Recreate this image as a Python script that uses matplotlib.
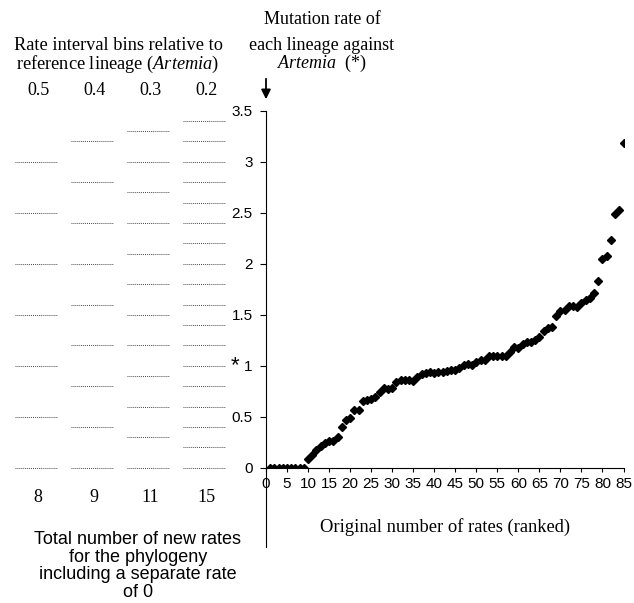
import numpy as np
import matplotlib.pyplot as plt

plt.rcParams['font.family'] = 'Liberation Serif'
plt.rcParams['mathtext.fontset'] = 'custom'
plt.rcParams['mathtext.rm'] = 'Liberation Serif'
plt.rcParams['mathtext.it'] = 'Liberation Serif:italic'

# ranked mutation rates of each lineage against Artemia
rank = list(range(1, 86))
rate = [0, 0, 0, 0, 0, 0, 0, 0, 0,
        0.09, 0.12, 0.17, 0.21, 0.24, 0.26, 0.26, 0.30, 0.40, 0.47,
        0.49, 0.57, 0.57, 0.65, 0.66, 0.67, 0.69, 0.745, 0.78, 0.77,
        0.78, 0.84, 0.86, 0.86, 0.86, 0.85, 0.89, 0.915, 0.93, 0.94,
        0.93, 0.94, 0.94, 0.95, 0.96, 0.96, 0.98, 1.01, 1.02, 1.01,
        1.04, 1.055, 1.055, 1.095, 1.095, 1.095, 1.095, 1.10, 1.13, 1.18,
        1.17, 1.21, 1.235, 1.235, 1.25, 1.28, 1.34, 1.37, 1.375, 1.49,
        1.54, 1.55, 1.585, 1.585, 1.58, 1.61, 1.64, 1.66, 1.71, 1.83,
        2.05, 2.08, 2.23, 2.49, 2.53, 3.18]

# rate interval bins
bin_widths = ['0.5', '0.4', '0.3', '0.2']
new_rates = ['8', '9', '11', '15']
bins_05 = [0, 0.5, 1.0, 1.5, 2.0, 2.5, 3.0]
bins_04 = [0, 0.4, 0.8, 1.2, 1.6, 2.0, 2.4, 2.8, 3.2]
bins_03 = [0, 0.3, 0.6, 0.9, 1.2, 1.5, 1.8, 2.1, 2.4, 2.7, 3.0, 3.3]
bins_02 = [0, 0.2, 0.4, 0.6, 0.8, 1.0, 1.2, 1.4, 1.6, 1.8, 2.0, 2.2,
           2.4, 2.6, 2.8, 3.0, 3.2, 3.4]
bin_edges = [bins_05, bins_04, bins_03, bins_02]

W, H = 634, 603
fig = plt.figure(figsize=(W / 100, H / 100), dpi=100)

# main scatter axes
ax = fig.add_axes([266 / W, 1 - 467.7 / H, 357.5 / W, 357 / H])
ax.plot(rank, rate, 'D', color='black', ms=3.8, mec='black')
ax.set_xlim(0, 85)
ax.set_ylim(0, 3.5)
ax.set_xticks(np.arange(0, 86, 5))
ax.set_yticks([0, 0.5, 1, 1.5, 2, 2.5, 3, 3.5])
ax.set_yticklabels(['0', '0.5', '1', '1.5', '2', '2.5', '3', '3.5'])
for s in ['top', 'right']:
    ax.spines[s].set_visible(False)
ax.spines['left'].set_bounds(-0.78, 3.5)
ax.tick_params(axis='both', direction='out', labelsize=11, width=0.8)
ax.tick_params(axis='y', length=4.5, pad=5)
ax.tick_params(axis='x', length=3, pad=4)
for lab in ax.get_xticklabels() + ax.get_yticklabels():
    lab.set_family('Liberation Sans')
ax.annotate('*', xy=(0, 1), xycoords=('axes fraction', 'data'),
            xytext=(-22.5, 0), textcoords='offset points',
            ha='center', va='center', fontsize=16, family='Liberation Sans')
ax.set_xlabel('Original number of rates (ranked)', fontsize=13.3, labelpad=19)

# bins panel
axb = fig.add_axes([0, 1 - 467.7 / H, 250 / W, 357 / H])
axb.set_xlim(-36 / 56, (250 - 36) / 56)
axb.set_ylim(0, 3.5)
axb.axis('off')
for i, edges in enumerate(bin_edges):
    for e in edges:
        axb.plot([i - 0.38, i + 0.38], [e, e], color='0.3', lw=0.7,
                 ls=(0, (1, 1)), clip_on=False)
    axb.text(i + 0.04, 3.70, bin_widths[i], ha='center', va='center',
             fontsize=13, clip_on=False)
    axb.text(i + 0.04, -0.29, new_rates[i], ha='center', va='center',
             fontsize=13, clip_on=False)

fig.text(118 / W, 1 - 46 / H, 'Rate interval bins relative to',
         ha='center', va='center', fontsize=13.2)
fig.text(118 / W, 1 - 64 / H, r'reference lineage ($\it{Artemia}$)',
         ha='center', va='center', fontsize=13.2)

fig.text(322 / W, 1 - 20 / H, 'Mutation rate of', ha='center', va='center', fontsize=13)
fig.text(322 / W, 1 - 45 / H, 'each lineage against', ha='center', va='center', fontsize=13)
fig.text(322 / W, 1 - 63 / H, r'$\it{Artemia}$  (*)', ha='center', va='center', fontsize=13)

fig.text(138 / W, 1 - 566 / H,
         'Total number of new rates\nfor the phylogeny\nincluding a separate rate\nof 0',
         ha='center', va='center', fontsize=13, family='Liberation Sans',
         linespacing=1.06)

ax.annotate('', xy=(266 / W, 1 - 102 / H), xytext=(266 / W, 1 - 76 / H),
            xycoords='figure fraction', textcoords='figure fraction',
            arrowprops=dict(arrowstyle='-|>', color='black', lw=1.3,
                            mutation_scale=14))

fig.savefig('out.png', dpi=100)
